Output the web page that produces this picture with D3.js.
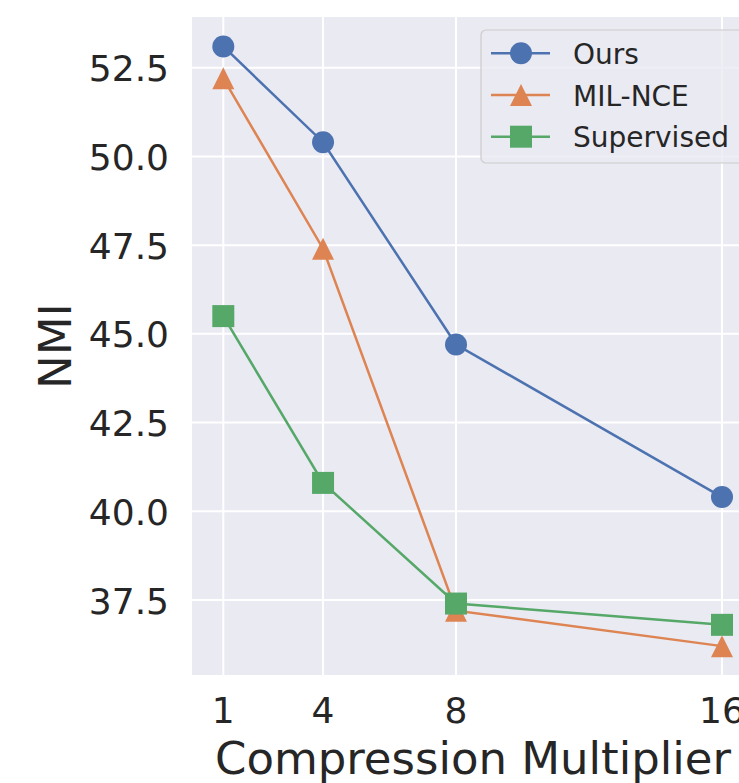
<!DOCTYPE html>
<html>
<head>
<meta charset="utf-8">
<script src="https://cdn.jsdelivr.net/npm/d3@7"></script>
<style>
  body { margin: 0; background: white; }
  text { font-family: "DejaVu Sans", sans-serif; fill: #262626; }
</style>
</head>
<body>
<script>
// data
const multipliers = [1, 4, 8, 16]
const ours = [53.1, 50.4, 44.7, 40.4]
const milNce = [52.2, 47.4, 37.2, 36.2]
const supervised = [45.5, 40.8, 37.4, 36.8]
const yTicks = [37.5, 40.0, 42.5, 45.0, 47.5, 50.0, 52.5]
const seriesNames = ["Ours", "MIL-NCE", "Supervised"]

const W = 739, H = 783
const plot = ({left: 192, right: 754, top: 17, bottom: 675})

const svg = d3.select("body").append("svg")
  .attr("width", W)
  .attr("height", H)

const x = d3.scaleLinear()
  .domain([1, 16])
  .range([223.3, 722])

const y = d3.scaleLinear()
  .domain([37.5, 52.5])
  .range([600, 67.7])

// background
svg.append("rect")
  .attr("x", plot.left)
  .attr("y", plot.top)
  .attr("width", plot.right - plot.left)
  .attr("height", plot.bottom - plot.top)
  .attr("fill", "#eaeaf2")

// grid
svg.append("g")
  .selectAll("line")
  .data(yTicks)
  .join("line")
  .attr("x1", plot.left)
  .attr("x2", plot.right)
  .attr("y1", d => y(d))
  .attr("y2", d => y(d))
  .attr("stroke", "white")
  .attr("stroke-width", 2)

svg.append("g")
  .selectAll("line")
  .data(multipliers)
  .join("line")
  .attr("x1", d => x(d))
  .attr("x2", d => x(d))
  .attr("y1", plot.top)
  .attr("y2", plot.bottom)
  .attr("stroke", "white")
  .attr("stroke-width", 2)

// y tick labels
svg.append("g")
  .selectAll("text")
  .data(yTicks)
  .join("text")
  .attr("x", 169)
  .attr("y", d => y(d) + 13.5)
  .attr("text-anchor", "end")
  .style("font-size", "36px")
  .text(d => d.toFixed(1))

// x tick labels
svg.append("g")
  .selectAll("text")
  .data(multipliers)
  .join("text")
  .attr("x", d => x(d))
  .attr("y", 723)
  .attr("text-anchor", "middle")
  .style("font-size", "36px")
  .text(d => d)

// axis labels
svg.append("text")
  .attr("x", (plot.left + plot.right) / 2)
  .attr("y", 774)
  .attr("text-anchor", "middle")
  .style("font-size", "45px")
  .text("Compression Multiplier")

svg.append("text")
  .attr("transform", `translate(71,${(plot.top + plot.bottom) / 2}) rotate(-90)`)
  .attr("text-anchor", "middle")
  .style("font-size", "45px")
  .text("NMI")

const colors = ["#4c72b0", "#dd8452", "#55a868"]
const allSeries = [ours, milNce, supervised]
const shapes = [d3.symbolCircle, d3.symbolTriangle, d3.symbolSquare]
const sizes = [Math.PI * 11 * 11, 0, 22 * 22]

const line = d3.line()
  .x((d, i) => x(multipliers[i]))
  .y(d => y(d))

const marker = (k) => {
  if (k === 1) {
    // matplotlib style triangle: box 22x22, centred on the point
    return "M0,-11L11,11L-11,11Z"
  }
  return d3.symbol().type(shapes[k]).size(sizes[k])()
}

const series = svg.append("g")
allSeries.forEach((vals, k) => {
  series.append("path")
    .datum(vals)
    .attr("d", line)
    .attr("fill", "none")
    .attr("stroke", colors[k])
    .attr("stroke-width", 2.5)
})
allSeries.forEach((vals, k) => {
  series.append("g")
    .selectAll("path")
    .data(vals)
    .join("path")
    .attr("transform", (d, i) => `translate(${x(multipliers[i])},${y(d)})`)
    .attr("d", marker(k))
    .attr("fill", colors[k])
})

// legend
const legend = svg.append("g")
legend.append("rect")
  .attr("x", 481)
  .attr("y", 30)
  .attr("width", 264)
  .attr("height", 133)
  .attr("rx", 5)
  .attr("fill", "#eaeaf2")
  .attr("fill-opacity", 0.8)
  .attr("stroke", "#cccccc")
  .attr("stroke-width", 1.2)

const rows = legend.selectAll("g.row")
  .data(seriesNames)
  .join("g")
  .attr("class", "row")
  .attr("transform", (d, i) => `translate(0,${53.3 + i * 41.7})`)

rows.append("line")
  .attr("x1", 491)
  .attr("x2", 550)
  .attr("stroke", (d, i) => colors[i])
  .attr("stroke-width", 2.5)

rows.append("path")
  .attr("transform", "translate(521,0)")
  .attr("d", (d, i) => marker(i))
  .attr("fill", (d, i) => colors[i])

rows.append("text")
  .attr("x", 573)
  .attr("y", 10.5)
  .style("font-size", "28px")
  .text(d => d)
</script>
</body>
</html>
